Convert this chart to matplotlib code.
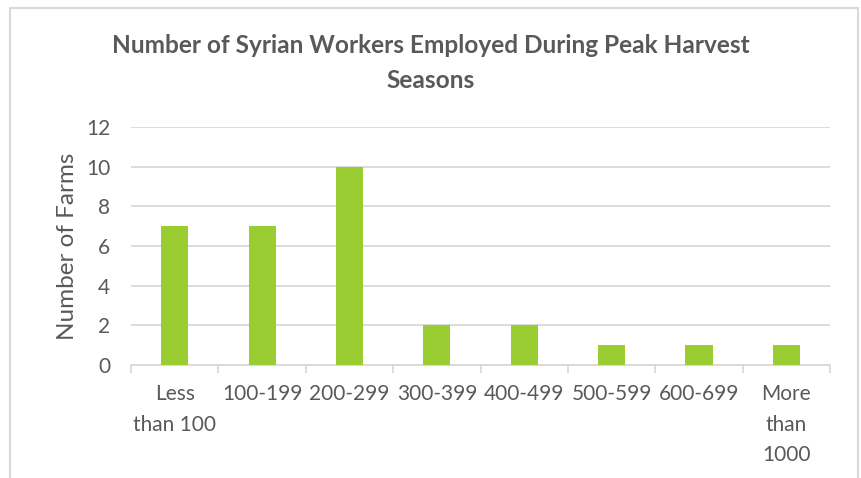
import matplotlib.pyplot as plt
from matplotlib.patches import Rectangle
import numpy as np

categories = ["Less\nthan 100", "100-199", "200-299", "300-399", "400-499",
              "500-599", "600-699", "More\nthan\n1000"]
farms = [7, 7, 10, 2, 2, 1, 1, 1]
y_ticks = [0, 2, 4, 6, 8, 10, 12]

text_color = "#595959"
grid_color = "#d9d9d9"
bar_color = "#9acd32"

plt.rcParams["font.family"] = ["Lato", "DejaVu Sans"]

fig = plt.figure(figsize=(8.62, 4.78), dpi=100)
ax = fig.add_axes([0.152, 0.2364, 0.811, 0.4979])

x = np.arange(len(categories))
ax.bar(x, farms, width=0.31, color=bar_color, zorder=3)

ax.set_xlim(-0.5, len(categories) - 0.5)
ax.set_ylim(0, 12)
ax.set_yticks(y_ticks)
ax.yaxis.grid(True, color=grid_color, linewidth=1.3, zorder=0)
ax.tick_params(axis="y", length=0, pad=15, labelsize=15, labelcolor=text_color)

ax.set_xticks(x)
ax.set_xticklabels(categories, linespacing=1.64)
ax.set_xticks(np.arange(-0.5, len(categories)), minor=True)
ax.tick_params(axis="x", which="major", length=0, pad=14, labelsize=15,
               labelcolor=text_color)
ax.tick_params(axis="x", which="minor", length=6, width=1.3, color=grid_color)
for lbl in ax.get_xticklabels():
    lbl.set_verticalalignment("top")

for side in ["left", "right", "top"]:
    ax.spines[side].set_visible(False)
ax.spines["bottom"].set_color(grid_color)
ax.spines["bottom"].set_linewidth(1.3)

ax.set_ylabel("Number of Farms", fontsize=17.5, color=text_color, labelpad=6)

fig.text(0.5, 0.869, "Number of Syrian Workers Employed During Peak Harvest\nSeasons",
         ha="center", va="center", fontsize=17.6, fontweight="bold",
         color=text_color, linespacing=1.62)

# chart area frame
fig.add_artist(Rectangle((10 / 862, -0.05), 848 / 862, 1 - 8 / 478 + 0.05,
                         transform=fig.transFigure, fill=False,
                         edgecolor=grid_color, linewidth=1.5))

fig.savefig("out.png", dpi=100)
